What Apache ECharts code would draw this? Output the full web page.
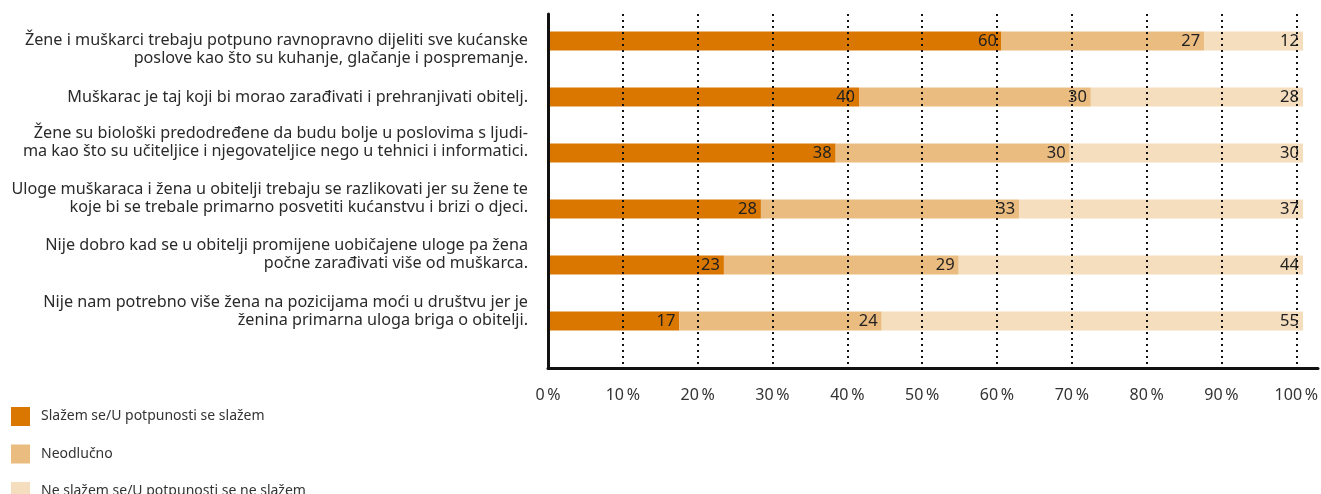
<!DOCTYPE html>
<html>
<head>
<meta charset="utf-8">
<script src="https://cdn.jsdelivr.net/npm/echarts@6/dist/echarts.min.js"></script>
<style>
html,body{margin:0;padding:0;background:#fff;}
#chart{width:1321px;height:494px;}
</style>
</head>
<body>
<div id="chart"></div>
<script>
const categories = [
  "Žene i muškarci trebaju potpuno ravnopravno dijeliti sve kućanske\nposlove kao što su kuhanje, glačanje i pospremanje.",
  "Muškarac je taj koji bi morao zarađivati i prehranjivati obitelj.",
  "Žene su biološki predodređene da budu bolje u poslovima s ljudi-\nma kao što su učiteljice i njegovateljice nego u tehnici i informatici.",
  "Uloge muškaraca i žena u obitelji trebaju se razlikovati jer su žene te\nkoje bi se trebale primarno posvetiti kućanstvu i brizi o djeci.",
  "Nije dobro kad se u obitelji promijene uobičajene uloge pa žena\npočne zarađivati više od muškarca.",
  "Nije nam potrebno više žena na pozicijama moći u društvu jer je\nženina primarna uloga briga o obitelji."
];
const seriesNames = ["Slažem se/U potpunosti se slažem", "Neodlučno", "Ne slažem se/U potpunosti se ne slažem"];
// bar lengths as drawn (share of 100 %)
const agreeShare = [60.0, 41.2, 38.1, 28.2, 23.3, 17.4];
const undecidedShare = [26.9, 30.7, 31.0, 34.2, 31.1, 26.8];
const disagreeShare = [13.1, 28.1, 30.9, 37.6, 45.6, 55.8];
// printed value labels
const agreeLabels = [60, 40, 38, 28, 23, 17];
const undecidedLabels = [27, 30, 30, 33, 29, 24];
const disagreeLabels = [12, 28, 30, 37, 44, 55];
const tickValues = [0, 10, 20, 30, 40, 50, 60, 70, 80, 90, 100];

const colors = ["#D97700", "#EBBC80", "#F5DEBE"];
const FONT = "'Noto Sans', 'Open Sans', sans-serif";

// vertical nudges of the category texts (style only): spacer height before / after
const spacerTop = [16, 0, 0, 0, 0, 0];
const spacerBottom = [0, 0, 22, 22, 22, 20];

function categoryLabel(value, index) {
  const lines = String(value).split('\n').map(l => '{t|' + l + '}');
  const i = categories.indexOf(value);
  const k = i >= 0 ? i : index;
  if (spacerTop[k]) lines.unshift('{s' + spacerTop[k] + '| }');
  if (spacerBottom[k]) lines.push('{s' + spacerBottom[k] + '| }');
  return lines.join('\n');
}
const richStyles = {
  t: { color: '#2a2a2a', fontSize: 16.2, fontFamily: FONT, lineHeight: 18, align: 'right' },
  s16: { fontSize: 1, lineHeight: 16 },
  s20: { fontSize: 1, lineHeight: 20 },
  s22: { fontSize: 1, lineHeight: 22 }
};

function mkSeries(i, data, labels) {
  return {
    name: seriesNames[i],
    type: 'bar',
    stack: 'total',
    xAxisIndex: 0,
    yAxisIndex: 0,
    barWidth: 19,
    data: data,
    itemStyle: { color: colors[i] },
    z: 2,
    label: {
      show: true,
      position: 'insideRight',
      distance: 4,
      color: '#222',
      fontFamily: FONT,
      fontSize: 16.5,
      formatter: p => String(labels[p.dataIndex])
    },
    emphasis: { disabled: true }
  };
}

const chart = echarts.init(document.getElementById('chart'), null, { renderer: 'canvas' });
chart.setOption({
  animation: false,
  backgroundColor: '#fff',
  textStyle: { fontFamily: FONT },
  legend: {
    orient: 'vertical',
    left: 6,
    top: 402,
    height: 200,
    itemWidth: 19,
    itemHeight: 19,
    itemGap: 18.5,
    icon: 'rect',
    data: seriesNames,
    textStyle: { color: '#333', fontSize: 14, fontFamily: FONT, padding: [0, 0, 0, 6] },
    selectedMode: false
  },
  grid: [
    { left: 548, width: 755, top: 13, height: 336 },
    { left: 548, width: 755, top: 14, bottom: 126 },
    { left: 548, right: 3, top: 14, bottom: 126 }
  ],
  xAxis: [
    { gridIndex: 0, type: 'value', min: 0, max: 100, show: false },
    {
      gridIndex: 1, type: 'value', min: 0, max: 100, interval: 10, z: 5,
      axisLine: { show: false },
      axisTick: { show: false },
      axisLabel: {
        color: '#333', fontSize: 16, fontFamily: FONT, margin: 19,
        formatter: v => tickValues.includes(v) ? v + '\u2009%' : ''
      },
      splitLine: { show: true, lineStyle: { color: '#111', width: 2, type: [2, 4] } }
    },
    {
      gridIndex: 2, type: 'value', min: 0, max: 1, z: 6,
      axisLine: { show: true, lineStyle: { color: '#111', width: 3 } },
      axisTick: { show: false }, axisLabel: { show: false }, splitLine: { show: false }
    }
  ],
  yAxis: [
    {
      gridIndex: 0, type: 'category', inverse: true, data: categories,
      axisLine: { show: false }, axisTick: { show: false },
      axisLabel: {
        interval: 0,
        hideOverlap: false,
        margin: 20,
        align: 'right',
        formatter: categoryLabel,
        rich: richStyles
      }
    },
    {
      gridIndex: 1, type: 'value', min: 0, max: 1, z: 6,
      axisLine: { show: true, lineStyle: { color: '#111', width: 3 } },
      axisTick: { show: false }, axisLabel: { show: false }, splitLine: { show: false }
    },
    {
      gridIndex: 2, type: 'value', min: 0, max: 1, show: false
    }
  ],
  series: [
    mkSeries(0, agreeShare, agreeLabels),
    mkSeries(1, undecidedShare, undecidedLabels),
    mkSeries(2, disagreeShare, disagreeLabels)
  ]
});
</script>
</body>
</html>
